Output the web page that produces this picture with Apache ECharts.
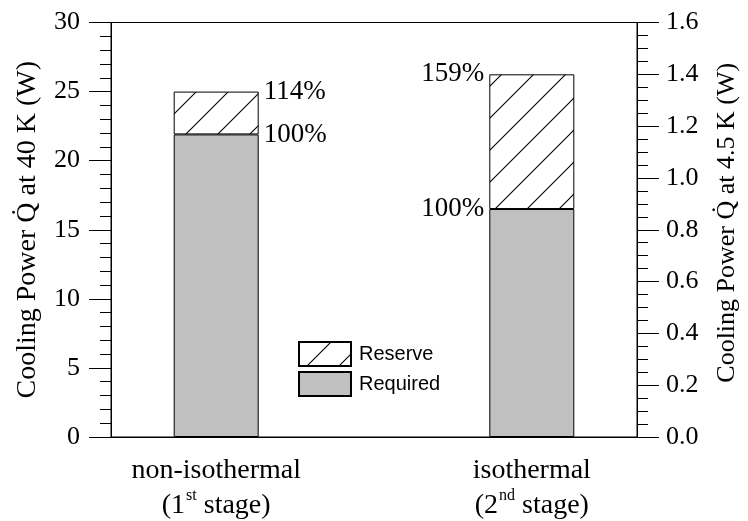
<!DOCTYPE html>
<html>
<head>
<meta charset="utf-8">
<script src="https://cdn.jsdelivr.net/npm/echarts@6/dist/echarts.min.js"></script>
<style>
html,body{margin:0;padding:0;background:#fff;}
#chart{width:748px;height:521px;}
</style>
</head>
<body>
<div id="chart"></div>
<script>
// ---- data ----
const categories = ['non-isothermal', 'isothermal'];
const stageNumbers = ['1', '2'];
const stageSuffixes = ['st', 'nd'];
const requiredPower = [21.9, 0.88];      // W (left axis for 1st, right axis for 2nd)
const reservePower = [3.1, 0.52];        // W
const requiredLabels = ['100%', '100%'];
const totalLabels = ['114%', '159%'];
const leftTicks = [0, 5, 10, 15, 20, 25, 30];
const rightTicks = ['0.0', '0.2', '0.4', '0.6', '0.8', '1.0', '1.2', '1.4', '1.6'];

// ---- layout: category slots on the axis ----
const slotOf = [1, 4];
const nSlots = 6;
const slotNames = new Array(nSlots).fill('');
slotOf.forEach((s, i) => { slotNames[s] = String(i); });

function slotData(i, value, labelText, side) {
  const arr = new Array(nSlots).fill(null);
  const lab = side === 'right'
    ? { show: true, position: ['100%', 0], align: 'left', verticalAlign: 'middle', padding: [0, 0, 0, 5] }
    : { show: true, position: [0, 0], align: 'right', verticalAlign: 'middle', padding: [0, 5, 0, 0] };
  lab.formatter = labelText;
  arr[slotOf[i]] = { value: value, label: lab };
  return arr;
}

function hatch() {
  const c = document.createElement('canvas');
  c.width = 32; c.height = 32;
  const g = c.getContext('2d');
  g.fillStyle = '#fff'; g.fillRect(0, 0, 32, 32);
  g.strokeStyle = '#000'; g.lineWidth = 1.1;
  g.beginPath();
  g.moveTo(-2, 34); g.lineTo(34, -2);
  g.moveTo(-4, 4); g.lineTo(4, -4);
  g.moveTo(28, 36); g.lineTo(36, 28);
  g.stroke();
  return c;
}
const hatchPattern = { image: hatch(), repeat: 'repeat' };

const serif = 'Liberation Serif';
const labelFont = { fontFamily: serif, fontSize: 27, color: '#000' };

const sides = ['right', 'left'];
const series = [];
categories.forEach((c, i) => {
  series.push({
    name: 'Required', type: 'bar', yAxisIndex: i, stack: 's' + i,
    barWidth: 85, barGap: '-100%',
    itemStyle: { color: '#c0c0c0', borderColor: '#000', borderWidth: 1 },
    label: labelFont,
    data: slotData(i, requiredPower[i], requiredLabels[i], sides[i])
  });
  series.push({
    name: 'Reserve', type: 'bar', yAxisIndex: i, stack: 's' + i,
    barWidth: 85, barGap: '-100%',
    itemStyle: { color: hatchPattern, borderColor: '#000', borderWidth: 1 },
    label: labelFont,
    data: slotData(i, reservePower[i], totalLabels[i], sides[i])
  });
});

const blackLine = { lineStyle: { color: '#000', width: 1 } };

const option = {
  animation: false,
  backgroundColor: '#fff',
  grid: { left: 111, right: 107, top: 22.5, bottom: 84, show: true, borderColor: '#000', borderWidth: 1 },
  legend: {
    data: ['Reserve', 'Required'],
    orient: 'vertical', left: 298, top: 341, padding: 0,
    itemWidth: 52, itemHeight: 24, itemGap: 4,
    icon: 'rect',
    textStyle: { fontFamily: 'Liberation Sans', fontSize: 20, color: '#000', padding: [0, 0, 0, 3] }
  },
  xAxis: {
    type: 'category', data: slotNames, boundaryGap: false,
    axisLine: { show: true, lineStyle: { color: '#000', width: 1 } },
    axisTick: { show: false },
    splitLine: { show: false },
    axisLabel: {
      interval: 0, margin: 16,
      formatter: function (v) {
        if (v === '') return '';
        const i = Number(v);
        return '{n|' + categories[i] + '}\n{n|(' + stageNumbers[i] + '}{s|' + stageSuffixes[i] + '}{n| stage)}';
      },
      rich: {
        n: { fontFamily: serif, fontSize: 28, color: '#000', lineHeight: 35 },
        s: { fontFamily: serif, fontSize: 16, color: '#000', verticalAlign: 'top', lineHeight: 20, padding: [0, 0, 0, 1] }
      }
    }
  },
  yAxis: [
    {
      type: 'value', position: 'left', min: 0, max: 30, interval: 5,
      axisLine: Object.assign({ show: true }, blackLine),
      axisTick: Object.assign({ show: true, length: 22, inside: false }, blackLine),
      minorTick: Object.assign({ show: true, splitNumber: 5, length: 11 }, blackLine),
      splitLine: { show: false },
      axisLabel: { margin: 31, fontFamily: serif, fontSize: 26, color: '#000',
        formatter: v => { const k = leftTicks.indexOf(Math.round(v)); return k >= 0 ? String(leftTicks[k]) : ''; } },
      name: 'Cooling Power Q\u0307 at 40 K (W)', nameLocation: 'middle', nameGap: 69,
      nameTextStyle: { fontFamily: serif, fontSize: 28, color: '#000' }
    },
    {
      type: 'value', position: 'right', min: 0, max: 1.6, interval: 0.2,
      axisLine: Object.assign({ show: true }, blackLine),
      axisTick: Object.assign({ show: true, length: 22, inside: false }, blackLine),
      minorTick: Object.assign({ show: true, splitNumber: 4, length: 11 }, blackLine),
      splitLine: { show: false },
      axisLabel: { margin: 29, fontFamily: serif, fontSize: 26, color: '#000',
        formatter: v => rightTicks[Math.round(v / 0.2)] || '' },
      name: 'Cooling Power Q\u0307 at 4.5 K (W)', nameLocation: 'middle', nameGap: 77,
      nameTextStyle: { fontFamily: serif, fontSize: 26, color: '#000', padding: [0, 0, 0, 14] }
    }
  ],
  series: series
};

const chart = echarts.init(document.getElementById('chart'), null, { renderer: 'canvas' });
chart.setOption(option);
</script>
</body>
</html>
